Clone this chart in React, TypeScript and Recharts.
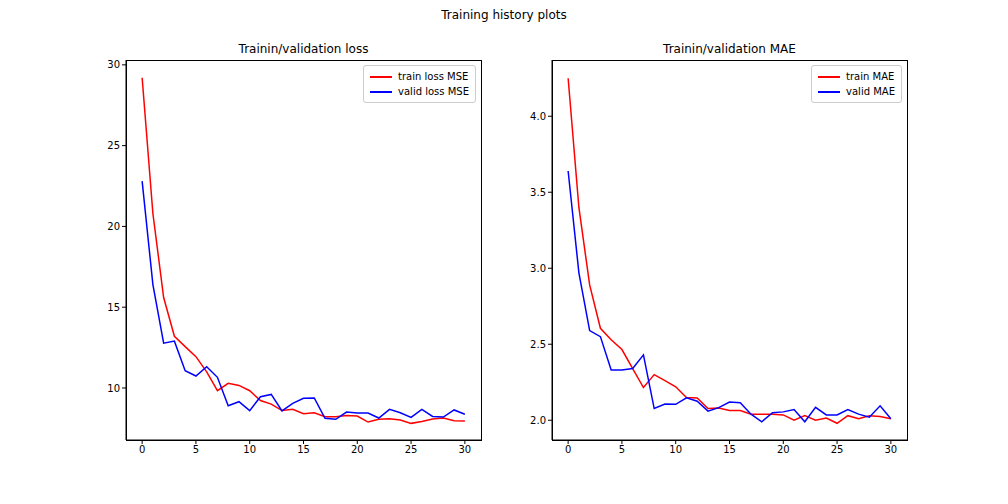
import React from "react";
import { LineChart, Line, XAxis, YAxis } from "recharts";

const epochs = Array.from({ length: 31 }, (_, i) => i);

const trainLoss = [29.2, 20.8, 15.6, 13.2, 12.56, 11.94, 11.0, 9.83, 10.29, 10.16, 9.83, 9.22, 9.0, 8.6, 8.68, 8.41, 8.47, 8.22, 8.22, 8.3, 8.26, 7.89, 8.06, 8.1, 8.02, 7.81, 7.93, 8.08, 8.14, 7.97, 7.95];
const validLoss = [22.8, 16.4, 12.77, 12.9, 11.07, 10.74, 11.32, 10.66, 8.9, 9.15, 8.6, 9.46, 9.6, 8.58, 9.05, 9.36, 9.38, 8.12, 8.06, 8.51, 8.45, 8.45, 8.14, 8.68, 8.47, 8.18, 8.68, 8.24, 8.2, 8.64, 8.37];
const trainMae = [4.25, 3.4, 2.89, 2.605, 2.53, 2.465, 2.34, 2.215, 2.3, 2.26, 2.22, 2.15, 2.147, 2.077, 2.08, 2.064, 2.064, 2.04, 2.04, 2.04, 2.035, 2.0, 2.03, 2.0, 2.015, 1.98, 2.03, 2.01, 2.03, 2.025, 2.01];
const validMae = [3.64, 2.97, 2.59, 2.55, 2.33, 2.33, 2.34, 2.43, 2.077, 2.107, 2.105, 2.147, 2.125, 2.06, 2.083, 2.12, 2.115, 2.04, 1.99, 2.05, 2.055, 2.07, 1.99, 2.085, 2.035, 2.035, 2.07, 2.04, 2.02, 2.095, 2.01];

const xTicks = [0, 5, 10, 15, 20, 25, 30];
const lossTicks = [10, 15, 20, 25, 30];
const maeTicks = [2.0, 2.5, 3.0, 3.5, 4.0];

const lossData = epochs.map((e, i) => ({ e, train: trainLoss[i], valid: validLoss[i] }));
const maeData = epochs.map((e, i) => ({ e, train: trainMae[i], valid: validMae[i] }));

const font = "DejaVu Sans, sans-serif";
const tick = { fontSize: 10, fill: "#000", fontFamily: font };
const colors = ["#ff0000", "#0000ff"];

function Panel({ left, title, data, domain, ticks, fmt, names }: any) {
  return (
    <div style={{ position: "absolute", left, top: 30, width: 420, height: 450 }}>
      <div style={{ position: "absolute", left: 50, width: 355, top: 12, textAlign: "center", fontSize: 12, fontFamily: font }}>
        {title}
      </div>
      <LineChart width={420} height={450} data={data} margin={{ top: 30, right: 15, bottom: 10, left: 10 }}>
        <XAxis
          dataKey="e"
          type="number"
          domain={[-1.5, 31.5]}
          ticks={xTicks}
          tick={tick}
          stroke="#000"
          tickSize={4}
          height={30}
          allowDataOverflow
        />
        <YAxis
          type="number"
          domain={domain}
          ticks={ticks}
          tick={tick}
          tickFormatter={fmt}
          stroke="#000"
          tickSize={4}
          width={40}
          allowDataOverflow
        />
        <Line dataKey="train" stroke={colors[0]} strokeWidth={1.5} dot={false} isAnimationActive={false} />
        <Line dataKey="valid" stroke={colors[1]} strokeWidth={1.5} dot={false} isAnimationActive={false} />
      </LineChart>
      <div style={{ position: "absolute", left: 50, top: 30, width: 354, height: 379, border: "1px solid #000", pointerEvents: "none" }} />
      <div style={{ position: "absolute", right: 20, top: 35, border: "1px solid #ccc", borderRadius: 3, background: "#fff", padding: "3px 6px", fontSize: 10, fontFamily: font, lineHeight: "15px" }}>
        {names.map((n: string, i: number) => (
          <div key={n} style={{ display: "flex", alignItems: "center" }}>
            <span style={{ display: "inline-block", width: 22, height: 2, background: colors[i], marginRight: 6 }} />
            {n}
          </div>
        ))}
      </div>
    </div>
  );
}

export default function App() {
  return (
    <div style={{ position: "fixed", left: 0, top: 0, width: 1008, height: 504, background: "#fff" }}>
      <div style={{ position: "absolute", top: 8, width: 1008, textAlign: "center", fontSize: 12, fontFamily: font }}>
        Training history plots
      </div>
      <Panel left={76} title="Trainin/validation loss" data={lossData} domain={[6.78, 30.3]} ticks={lossTicks} fmt={(v: number) => String(v)} names={["train loss MSE", "valid loss MSE"]} />
      <Panel left={502} title="Trainin/validation MAE" data={maeData} domain={[1.87, 4.37]} ticks={maeTicks} fmt={(v: number) => v.toFixed(1)} names={["train MAE", "valid MAE"]} />
    </div>
  );
}
